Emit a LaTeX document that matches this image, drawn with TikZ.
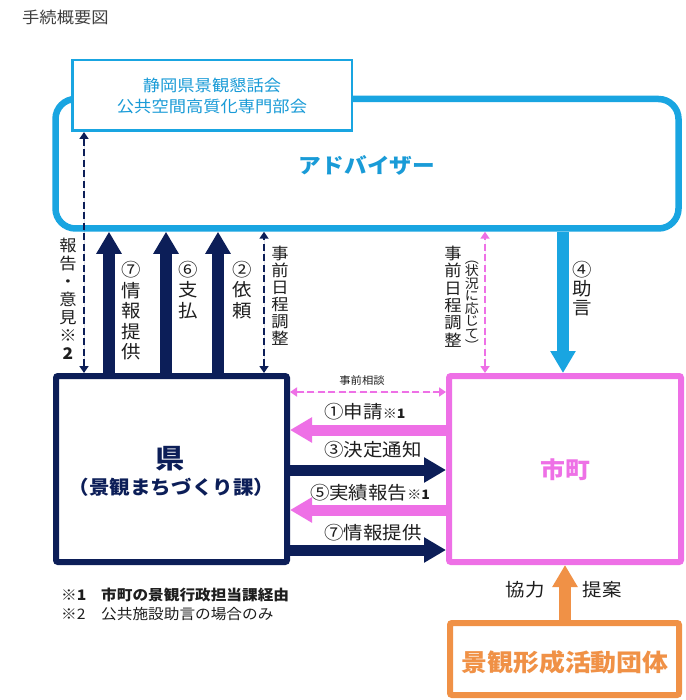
\documentclass[tikz,border=0pt]{standalone}
\usepackage{fontspec}
\setmainfont{Noto Sans CJK JP}[FakeStretch=1.08]
\usetikzlibrary{arrows.meta}
\definecolor{skyc}{RGB}{25,165,225}
\definecolor{skytext}{RGB}{25,155,215}
\definecolor{navyc}{RGB}{12,30,88}
\definecolor{pinkc}{RGB}{238,112,230}
\definecolor{orangec}{RGB}{240,145,70}
\definecolor{txtc}{RGB}{30,30,30}
\tikzset{
  fs/.style args={#1/#2}{font=\fontsize{#1}{#2}\selectfont},
  lab/.style={inner sep=0pt, text=txtc, align=center},
  bigarr/.style={line width=12pt, -{Triangle[width=24pt,length=22pt]}},
  bigarrh/.style={line width=11pt, -{Triangle[width=24pt,length=22pt]}},
  dasharr/.style={line width=2.7pt, dash pattern=on 7pt off 3.5pt,
    {Triangle[width=9pt,length=7pt]}-{Triangle[width=9pt,length=7pt]}},
  boxthick/.style={line width=6pt, rounded corners=2pt, fill=white},
}
\begin{document}
\begin{tikzpicture}[x=1pt,y=-1pt]
\useasboundingbox[fill=white] (0,0) rectangle (685,700);

% title
\node (title) [lab, fs=16/18, anchor=west, text=txtc!85] at (22,17) {手続概要図};

% advisor
\node (adv) [draw=skyc, line width=6.5pt, rounded corners=20pt, minimum width=623pt,
  minimum height=129.5pt, fill=white, inner sep=0pt] at (367,163.75) {};
\node (advlab) [lab, text=skytext, font=\bfseries\fontsize{21}{24}\selectfont] at (367,165) {アドバイザー};

% council
\node (council) [draw=skyc, line width=2.5pt, fill=white, minimum width=279.5pt,
  minimum height=70.5pt, inner sep=0pt] at (212,95.5) {};
\node (councillab) [lab, fs=16/21, text=skytext] at (212,95.5) {静岡県景観懇話会\\公共空間高質化専門部会};

% ken
\node (ken) [draw=navyc, boxthick, minimum width=231pt, minimum height=186pt] at (171.5,469) {};
\node (kenlab1) [lab, text=navyc, font=\bfseries\fontsize{27}{28}\selectfont] at (170.5,459) {県};
\node (kenlab2) [lab, text=navyc, font=\bfseries\fontsize{19}{20}\selectfont] at (171.5,487) {（景観まちづくり課）};

% shimachi
\node (shi) [draw=pinkc, boxthick, minimum width=232pt, minimum height=186pt] at (565,469) {};
\node (shilab) [lab, text=pinkc, font=\bfseries\fontsize{23}{26}\selectfont] at (565,470) {市町};

% group
\node (grp) [draw=orangec, boxthick, minimum width=229pt, minimum height=72pt] at (564.5,659) {};
\node (grplab) [lab, text=orangec, font=\bfseries\fontsize{24}{26}\selectfont] at (565,662) {景観形成活動団体};

% x positions
\coordinate (xa) at (84,0);
\coordinate (xb) at (109,0);
\coordinate (xc) at (166,0);
\coordinate (xd) at (218,0);
\coordinate (xe) at (264,0);
\coordinate (xf) at (485,0);
\coordinate (xg) at (563,0);
\coordinate (xh) at (565,0);
% y positions
\coordinate (ya) at (0,392);
\coordinate (yb) at (0,430);
\coordinate (yc) at (0,470);
\coordinate (yd) at (0,510);
\coordinate (ye) at (0,550);

% vertical connectors ken <-> adv
\draw[dasharr, draw=navyc, fill=navyc] (ken.north -| xa) -- (council.south -| xa);
\draw[bigarr, navyc] (ken.north -| xb) -- (adv.south -| xb);
\draw[bigarr, navyc] (ken.north -| xc) -- (adv.south -| xc);
\draw[bigarr, navyc] (ken.north -| xd) -- (adv.south -| xd);
\draw[dasharr, draw=navyc, fill=navyc] (ken.north -| xe) -- (adv.south -| xe);

% shimachi <-> adv
\draw[dasharr, draw=pinkc, fill=pinkc] (shi.north -| xf) -- (adv.south -| xf);
\draw[bigarr, skyc] (adv.south -| xg) -- (shi.north -| xg);

% horizontal
\draw[dasharr, draw=pinkc, fill=pinkc] (ken.east |- ya) -- (shi.west |- ya);
\draw[bigarrh, pinkc] (shi.west |- yb) -- (ken.east |- yb);
\draw[bigarrh, navyc] (ken.east |- yc) -- (shi.west |- yc);
\draw[bigarrh, pinkc] (shi.west |- yd) -- (ken.east |- yd);
\draw[bigarrh, navyc] (ken.east |- ye) -- (shi.west |- ye);

% group -> shimachi
\draw[bigarr, orangec] (grp.north -| xh) -- (shi.south -| xh);

% vertical labels
\node (l1) [lab, fs=16/18] at (68,299) {報\\告\\・\\意\\見\\※\\\textbf{2}};
\node (l2) [lab, fs=18/20.5] at (131,311) {⑦\\情\\報\\提\\供};
\node (l3) [lab, fs=18/20.5] at (188,290) {⑥\\支\\払};
\node (l4) [lab, fs=18/20.5] at (242,290) {②\\依\\頼};
\node (l5) [lab, fs=16/17] at (280,295.5) {事\\前\\日\\程\\調\\整};
\node (l6) [lab, fs=16/17.4] at (453,296.5) {事\\前\\日\\程\\調\\整};
\node (l7) [lab, fs=13/12.5] at (472,306) {︵\\状\\況\\に\\応\\じ\\て\\︶};
\node (l8) [lab, fs=18/19] at (582,289) {④\\助\\言};

% horizontal labels
\node (h0) [lab, fs=10.5/12] at (362,380) {事前相談};
\node (h1) [lab, fs=18/20] at (365,412) {①申請{\bfseries\fontsize{13}{14}\selectfont ※1}};
\node (h2) [lab, fs=18/20] at (373,450) {③決定通知};
\node (h3) [lab, fs=18/20] at (370,493) {⑤実績報告{\bfseries\fontsize{13}{14}\selectfont ※1}};
\node (h4) [lab, fs=18/20] at (373,533) {⑦情報提供};

% cooperation labels
\node (c1) [lab, fs=18/20] at (525,590) {協力};
\node (c2) [lab, fs=18/20] at (602,590) {提案};

% footnotes
\node (f1a) [lab, anchor=west, font=\bfseries\fontsize{14.5}{16}\selectfont] at (61,595) {※1};
\node (f1b) [lab, anchor=west, font=\bfseries\fontsize{14.5}{16}\selectfont] at (101,595) {市町の景観行政担当課経由};
\node (f2a) [lab, fs=14.5/16, anchor=west] at (61,614) {※2};
\node (f2b) [lab, fs=14.5/16, anchor=west] at (101,614) {公共施設助言の場合のみ};
\end{tikzpicture}
\end{document}
